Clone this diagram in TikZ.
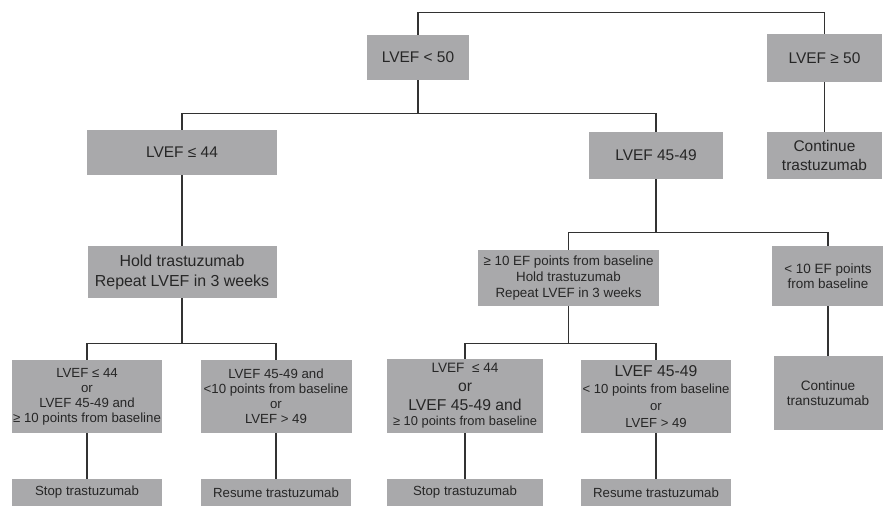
\documentclass[tikz,border=0pt]{standalone}
\usepackage{fontspec}
\setmainfont{Liberation Sans}
\definecolor{boxgray}{RGB}{169,169,171}
\definecolor{inkgray}{RGB}{38,38,38}
\definecolor{wiregray}{RGB}{50,50,50}

\begin{document}
\begin{tikzpicture}[x=0.03cm, y=-0.03cm,
    box/.style={fill=boxgray, text=inkgray, align=center, inner sep=0pt},
    dims/.style 2 args={minimum width=#1*0.03cm, minimum height=#2*0.03cm},
    big/.style={font=\fontsize{13.2}{16}\selectfont},
    small/.style={font=\fontsize{11.3}{12.9}\selectfont},
    wire/.style={draw=wiregray, line width=1pt}]

    \useasboundingbox (0,0) rectangle (883,506);

    % 1. Erste Ebene: LVEF unter/ueber 50
    \node[box, big, dims={102}{45}] (lt50) at (418,57.5) {LVEF < 50};
    \node[box, big, dims={115}{48}] (ge50) at (824.5,58) {LVEF ≥ 50};

    % 2. Zweite Ebene
    \node[box, big, dims={190}{45}] (le44) at (182,152.5) {LVEF ≤ 44};
    \node[box, big, dims={134}{47}] (r4549) at (656,155.5) {LVEF 45-49};
    \node[box, big, dims={115}{47}] (cont) at (824.5,155.5) {Continue\\trastuzumab};

    % 3. Dritte Ebene
    \node[box, font=\fontsize{13.6}{17}\selectfont, dims={189}{52}] (hold) at (182,272)
        {Hold trastuzumab\\Repeat LVEF in 3 weeks};
    \node[box, font=\fontsize{11.4}{13.6}\selectfont, dims={181}{56}] (ef10) at (568.5,278)
        {≥ 10 EF points from baseline\\Hold trastuzumab\\Repeat LVEF in 3 weeks};
    \node[box, font=\fontsize{11.5}{13.2}\selectfont, dims={112}{60}] (efl10) at (828,276)
        {< 10 EF points\\from baseline};

    % 4. Vierte Ebene (Kriterien)
    \node[box, small, dims={150}{73}] (bl1) at (87,396.5)
        {LVEF ≤ 44\\or\\LVEF 45-49 and\\≥ 10 points from baseline};
    \node[box, small, dims={151}{73}] (bl2) at (276,396.5)
        {LVEF 45-49 and\\<10 points from baseline\\or\\LVEF > 49};
    \node[box, font=\fontsize{11.6}{16}\selectfont, dims={156}{74}] (br1) at (465,396)
        {LVEF \ ≤ 44\\{\fontsize{13.4}{16}\selectfont or}\\{\fontsize{13.4}{16}\selectfont LVEF 45-49 and}\\[-3pt]
         {\fontsize{11}{16}\selectfont ≥ 10 points from baseline}};
    \node[box, font=\fontsize{11.2}{14}\selectfont, dims={150}{73}] (br2) at (656,396.5)
        {{\fontsize{13.4}{14}\selectfont LVEF 45-49}\\[1pt]< 10 points from baseline\\or\\[1pt]LVEF > 49};
    \node[box, font=\fontsize{11.6}{13}\selectfont, dims={109}{74}] (cont2) at (828,393)
        {Continue\\transtuzumab};

    % 5. Letzte Ebene (abgeschnitten am unteren Rand)
    \node[box, small, dims={150}{27}] (stop1) at (87,492.5) {Stop trastuzumab};
    \node[box, small, dims={150}{27}] (res1) at (276,492.5) {Resume trastuzumab};
    \node[box, small, dims={156}{27}] (stop2) at (465,492.5) {Stop trastuzumab};
    \node[box, small, dims={150}{27}] (res2) at (656,492.5) {Resume trastuzumab};

    % 6. Verbindungslinien
    \draw[wire] (lt50.north) -- ++(0,-22) -| (ge50.north);
    \draw[wire] (ge50.south) -- (cont.north);
    \draw[wire] (lt50.south) -- ++(0,33) coordinate (f1);
    \draw[wire] (le44.north) |- (f1) -| (r4549.north);
    \draw[wire] (le44.south) -- (hold.north);
    \draw[wire] (hold.south) -- ++(0,45) coordinate (f2);
    \draw[wire] (bl1.north) |- (f2) -| (bl2.north);
    \draw[wire] (r4549.south) -- ++(0,53) coordinate (f3);
    \draw[wire] (ef10.north) |- (f3) -| (efl10.north);
    \draw[wire] (ef10.south) -- ++(0,37) coordinate (f4);
    \draw[wire] (br1.north) |- (f4) -| (br2.north);
    \draw[wire] (efl10.south) -- (cont2.north);
    \draw[wire] (bl1.south) -- (stop1.north);
    \draw[wire] (bl2.south) -- (res1.north);
    \draw[wire] (br1.south) -- (stop2.north);
    \draw[wire] (br2.south) -- (res2.north);

\end{tikzpicture}
\end{document}
